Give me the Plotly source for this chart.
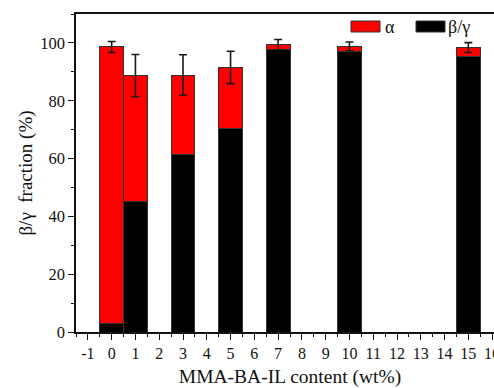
import plotly.graph_objects as go

content = [0, 1, 3, 5, 7, 10, 15]
beta_gamma = [2.8, 45.3, 61.5, 70.4, 97.7, 96.9, 95.2]
alpha = [95.8, 43.4, 27.4, 21.1, 1.7, 1.9, 3.2]
err = [1.9, 7.3, 7.0, 5.6, 1.8, 1.5, 1.7]
total = [b + a for b, a in zip(beta_gamma, alpha)]
x_ticks = list(range(-1, 17))
x_tick_labels = [str(v) for v in x_ticks]  # plain hyphen for "-1"

FONT = "Liberation Serif"
W, H = 508, 388
L, R, T, B = 76, 4, 14, 56
PW, PH = W - L - R, H - T - B

fig = go.Figure()
fig.add_trace(go.Bar(x=content, y=beta_gamma, name="β/γ", width=1.0,
                     marker=dict(color="#000000", line=dict(color="#333333", width=1)),
                     showlegend=False))
fig.add_trace(go.Bar(x=content, y=alpha, name="α", width=1.0,
                     marker=dict(color="#ff0000", line=dict(color="#333333", width=1)),
                     showlegend=False))
fig.add_trace(go.Scatter(x=content, y=total, mode="markers",
                         marker=dict(size=1, color="rgba(0,0,0,0)"),
                         error_y=dict(type="data", array=err, visible=True,
                                      color="#1a1a1a", thickness=1.6, width=4),
                         showlegend=False, hoverinfo="skip"))

def px(x):
    return (x - L) / PW

def py(y):
    return (H - B - y) / PH

# manual legend (swatches + labels)
fig.add_shape(type="rect", xref="paper", yref="paper",
              x0=px(351), x1=px(380), y0=py(32), y1=py(21),
              fillcolor="#ff0000", line=dict(color="#333333", width=1))
fig.add_shape(type="rect", xref="paper", yref="paper",
              x0=px(416), x1=px(445), y0=py(32), y1=py(21),
              fillcolor="#000000", line=dict(color="#333333", width=1))
fig.add_annotation(xref="paper", yref="paper", x=px(383), y=py(27),
                   text="α", showarrow=False, xanchor="left", yanchor="middle",
                   font=dict(family=FONT, size=18, color="#111"))
fig.add_annotation(xref="paper", yref="paper", x=px(446), y=py(27),
                   text="β/γ", showarrow=False, xanchor="left", yanchor="middle",
                   font=dict(family=FONT, size=18, color="#111"))

fig.update_layout(
    barmode="stack",
    width=W, height=H,
    margin=dict(l=L, r=R, t=T, b=B, autoexpand=False),
    plot_bgcolor="white", paper_bgcolor="white",
    font=dict(family=FONT, size=16, color="#111"),
    xaxis=dict(range=[-1.5, 16.5], tickmode="array", tickvals=x_ticks, ticktext=x_tick_labels,
               showline=True, linecolor="#111",
               linewidth=1.5, mirror=True, ticks="outside", ticklen=6, tickwidth=1.3,
               tickcolor="#111", showgrid=False, zeroline=False, automargin=False,
               tickfont=dict(family=FONT, size=16),
               minor=dict(dtick=0.5, tick0=0, ticks="outside", ticklen=3, tickwidth=1.3, tickcolor="#111"),
               title=dict(text="MMA-BA-IL content (wt%)", font=dict(size=19.5), standoff=8)),
    yaxis=dict(range=[0, 110], tick0=0, dtick=20, showline=True, linecolor="#111",
               linewidth=1.5, ticks="outside", ticklen=6, tickwidth=1.3, tickcolor="#111",
               showgrid=False, zeroline=False, automargin=False,
               tickfont=dict(family=FONT, size=16.5),
               minor=dict(dtick=10, ticks="outside", ticklen=3, tickwidth=1.3, tickcolor="#111"),
               title=dict(text="β/γ  fraction (%)", font=dict(size=19), standoff=3)),
)

fig.write_html("out.html", config={"displayModeBar": False},
               post_script="document.body.style.margin='0';document.body.style.overflow='hidden';")
